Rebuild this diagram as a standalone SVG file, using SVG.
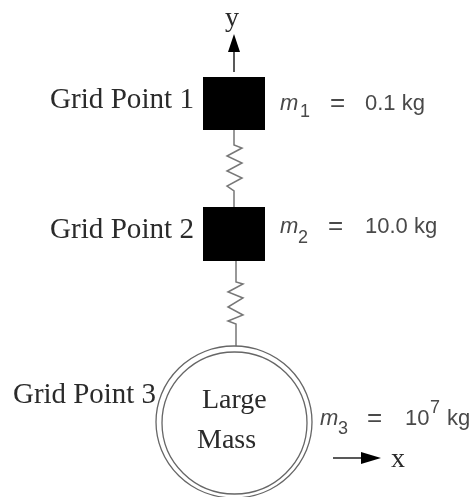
<svg xmlns="http://www.w3.org/2000/svg" width="472" height="497" viewBox="0 0 472 497">
<defs>
<filter id="b" x="-5%" y="-5%" width="110%" height="110%"><feGaussianBlur stdDeviation="0.6"/></filter>
</defs>
<style>
.s{font-family:"Liberation Serif",serif;font-size:29px;fill:#2a2a2a}
.l{font-size:28px}
.h{font-family:"Liberation Sans",sans-serif;font-size:22px;fill:#484848}
.i{font-style:italic}
.u{font-size:18px}
.e{font-size:26px}
.w{fill:none;stroke:#777;stroke-width:1.5}
</style>
<rect width="472" height="497" fill="#fff"/>
<g id="connectors" filter="url(#b)">
<path class="w" d="M234 130V145L242 148L227 156L242 163L227 171L242 178L227 186L234 191V207"/>
<path class="w" d="M236 261V282L243 284L228 292L243 298L228 307L243 315L228 321L236 324V347"/>
<path fill="none" stroke="#222" stroke-width="1.5" d="M234 72V52"/>
<path fill="#000" d="M234 34L240 52H228Z"/>
<path fill="none" stroke="#222" stroke-width="1.5" d="M333 458H365"/>
<path fill="#000" d="M381 458L361 452V464Z"/>
</g>
<g id="grid-point-1" filter="url(#b)">
<rect x="203" y="77" width="62" height="53" fill="#000"/>
<text class="s" x="50" y="108" textLength="144" lengthAdjust="spacingAndGlyphs">Grid Point 1</text>
<text class="h"><tspan class="i" x="280" y="110">m</tspan><tspan class="u" x="300" y="117">1</tspan><tspan class="e" x="330" y="111">=</tspan><tspan x="365" y="110">0.1 kg</tspan></text>
</g>
<g id="grid-point-2" filter="url(#b)">
<rect x="203" y="207" width="62" height="54" fill="#000"/>
<text class="s" x="50" y="238" textLength="144" lengthAdjust="spacingAndGlyphs">Grid Point 2</text>
<text class="h"><tspan class="i" x="280" y="233">m</tspan><tspan class="u" x="298" y="243">2</tspan><tspan class="e" x="328" y="234">=</tspan><tspan x="365" y="233">10.0 kg</tspan></text>
</g>
<g id="grid-point-3" filter="url(#b)">
<ellipse cx="234" cy="422" rx="78" ry="76" fill="#fff" stroke="#666" stroke-width="1.3"/>
<ellipse cx="234.500" cy="423" rx="72.500" ry="71" fill="#fff" stroke="#666" stroke-width="1.3"/>
<text class="s" x="13" y="403" textLength="143" lengthAdjust="spacingAndGlyphs">Grid Point 3</text>
<text class="s l" x="202" y="408">Large</text>
<text class="s l" x="197" y="448">Mass</text>
<text class="h"><tspan class="i" x="320" y="425">m</tspan><tspan class="u" x="338" y="434">3</tspan><tspan class="e" x="367" y="426">=</tspan><tspan x="405" y="425">10</tspan><tspan class="u" x="430" y="413">7</tspan><tspan x="447" y="425">kg</tspan></text>
</g>
<g id="axis-labels" filter="url(#b)">
<text class="s l" x="225" y="26">y</text>
<text class="s l" x="391" y="467">x</text>
</g>
</svg>
